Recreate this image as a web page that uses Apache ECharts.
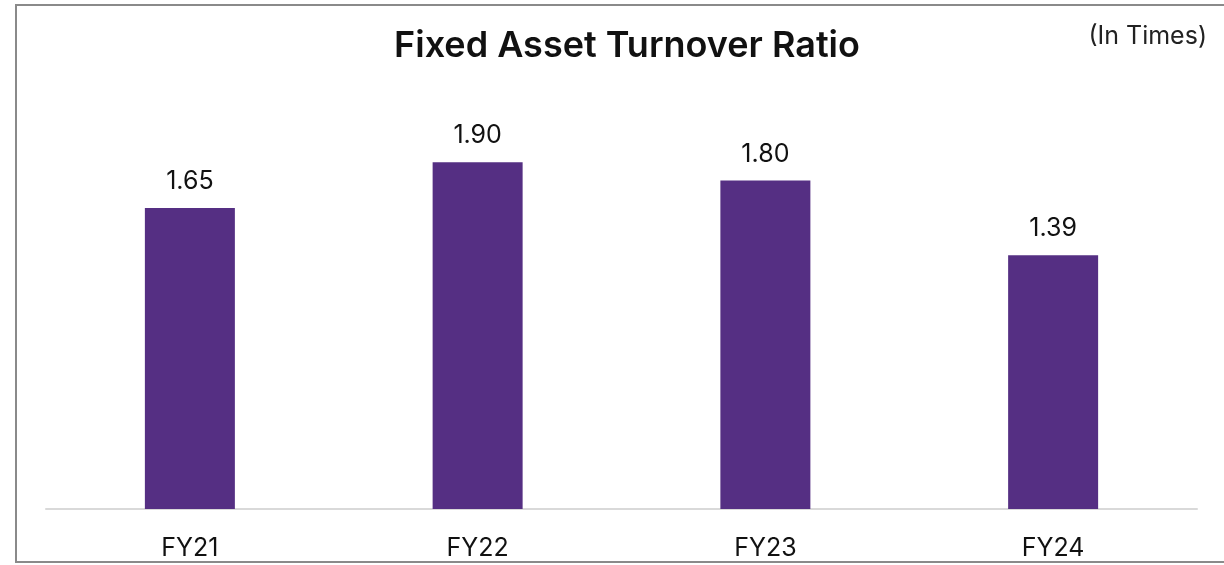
<!DOCTYPE html>
<html>
<head>
	<meta charset="utf-8">
	<title>Fixed Asset Turnover Ratio</title>
	<script src="https://cdn.jsdelivr.net/npm/echarts@6/dist/echarts.min.js"></script>
	<style>
		html, body { margin: 0; padding: 0; background: #fff; }
		#chart { width: 1224px; height: 565px; }
	</style>
</head>
<body>
	<div id="chart"></div>
	<script>
		var categories = ['FY21', 'FY22', 'FY23', 'FY24'];
		var ratios = [1.65, 1.90, 1.80, 1.39];

		var chart = echarts.init(document.getElementById('chart'));
		var option = {
			animation: false,
			title: [{
				text: 'Fixed Asset Turnover Ratio',
				left: 622,
				top: 23,
				textAlign: 'center',
				textStyle: { fontFamily: 'Inter', fontWeight: 600, fontSize: 36, color: '#111' }
			}, {
				text: '(In Times)',
				right: 12,
				top: 19,
				textStyle: { fontFamily: 'Inter', fontWeight: 'normal', fontSize: 25, color: '#222' }
			}],
			graphic: [{
				type: 'rect',
				shape: { x: 16, y: 5, width: 1220, height: 557 },
				style: { fill: 'none', stroke: '#8a8a8a', lineWidth: 2 }
			}],
			grid: { left: 46, right: 27, top: 71, bottom: 56 },
			xAxis: {
				type: 'category',
				data: categories,
				axisTick: { show: false },
				axisLine: { lineStyle: { color: '#d9d9d9', width: 2 } },
				axisLabel: { fontFamily: 'Inter', fontSize: 25, color: '#111', margin: 27 }
			},
			yAxis: {
				type: 'value',
				min: 0,
				max: 2.4,
				show: false
			},
			series: [{
				type: 'bar',
				data: ratios,
				barWidth: 90,
				itemStyle: { color: '#552F83' },
				label: {
					show: true,
					position: 'top',
					distance: 14,
					formatter: function (p) { return p.value.toFixed(2); },
					fontFamily: 'Inter',
					fontSize: 25,
					color: '#111'
				}
			}]
		};
		chart.setOption(option);
	</script>
</body>
</html>
